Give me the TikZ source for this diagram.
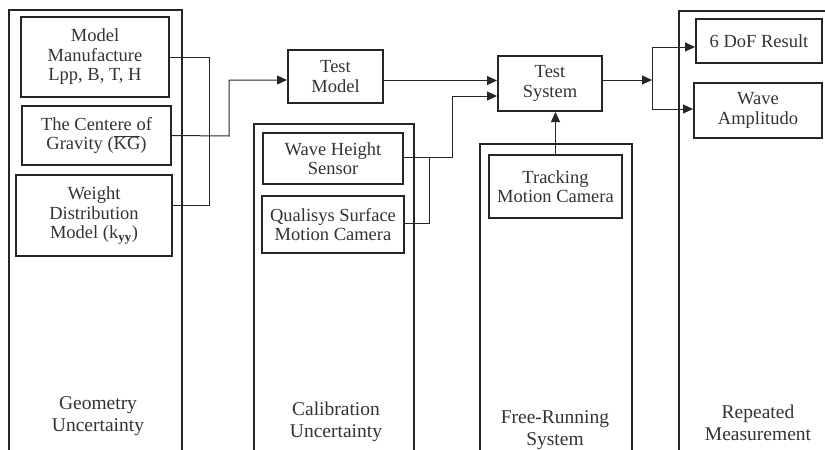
\documentclass[tikz,border=0pt]{standalone}
\usepackage{fontspec}
\setmainfont{Liberation Serif}
\usetikzlibrary{arrows.meta}
\definecolor{lineGray}{HTML}{262626}
\definecolor{textGray}{HTML}{333333}

\begin{document}
\begin{tikzpicture}[x=1pt,y=-1pt,
  outerBox/.style={draw=lineGray,line width=2pt,inner sep=0pt},
  innerBox/.style={draw=lineGray,line width=2pt,inner sep=0pt,align=center,text=textGray,
    font=\fontsize{18.5}{19.5}\selectfont},
  capText/.style={align=center,text=textGray,font=\fontsize{19.5}{22}\selectfont},
  link/.style={draw=lineGray,line width=1pt},
  arr/.style={link,-{Triangle[length=10pt,width=9pt]}}]
  \useasboundingbox (0,0) rectangle (825,450);
  \clip (0,0) rectangle (825,450);
  % outer columns
  \node[outerBox,minimum width=173,minimum height=450] (geo) at (95.5,235) {};
  \node[outerBox,minimum width=160,minimum height=336] (cal) at (334,292) {};
  \node[outerBox,minimum width=152,minimum height=316] (free) at (556,302) {};
  \node[outerBox,minimum width=221,minimum height=449] (rep) at (789.5,235.5) {};
  % column captions
  \node[capText] (geoText) at (98,416) {Geometry\\Uncertainty};
  \node[capText] (calText) at (336,422) {Calibration\\Uncertainty};
  \node[capText] (freeText) at (555,430) {Free-Running\\System};
  \node[capText] (repText) at (758,423) {Repeated\\Measurement};
  % inner boxes
  \node[innerBox,minimum width=148,minimum height=80] (mfg) at (95,57) {Model\\Manufacture\\Lpp, B, T, H};
  \node[innerBox,minimum width=149,minimum height=59] (cog) at (96.5,135.5) {The Centere of\\Gravity ($\overline{\hbox{KG}}$)};
  \node[innerBox,minimum width=156,minimum height=81] (wdist) at (94,215.5) {Weight\\Distribution\\Model (k\textsubscript{\textbf{yy}})};
  \node[innerBox,minimum width=95,minimum height=53] (tmod) at (335.5,76.5) {Test\\Model};
  \node[innerBox,minimum width=104,minimum height=55] (tsys) at (550,83.5) {Test\\System};
  \node[innerBox,minimum width=140,minimum height=51] (whs) at (333,158.5) {Wave Height\\Sensor};
  \node[innerBox,minimum width=142,minimum height=57] (qsc) at (333,224.5) {Qualisys Surface\\Motion Camera};
  \node[innerBox,minimum width=133,minimum height=63] (tmc) at (555.5,186.5) {Tracking\\Motion Camera};
  \node[innerBox,minimum width=126,minimum height=44] (dof) at (759,41) {6 DoF Result};
  \node[innerBox,minimum width=128,minimum height=55] (amp) at (758,110.5) {Wave\\Amplitudo};
  % junction points
  \coordinate (geoJoin) at (209,57);
  \coordinate (cogJoin) at (229,136);
  \coordinate (calJoin) at (452,157);
  \coordinate (qscJoin) at (429,223);
  \coordinate (outJoin) at (652,80);
  % connectors
  \draw[link] (mfg.east) -- (geoJoin) |- ([yshift=10.5pt]wdist.east);
  \draw[arr] (cog.east) -- (cogJoin) |- ([yshift=-3.5pt]tmod.west);
  \draw[arr] ([yshift=-4pt]tmod.east) -- ([yshift=-4pt]tmod.east -| tsys.west);
  \draw[arr] ([yshift=1.5pt]whs.east) -- (calJoin) |- ([yshift=-12.5pt]tsys.west);
  \draw[link] ([yshift=1.5pt]qsc.east) -- (qscJoin) -- (qscJoin |- calJoin);
  \draw[arr] (tmc.north) -- (tmc.north |- tsys.south);
  \draw[arr] ([yshift=3.5pt]tsys.east) -- (outJoin);
  \draw[link] (outJoin |- 0,47) -- (outJoin |- 0,109);
  \draw[arr] (outJoin |- 0,47) -- ([yshift=-6pt]dof.west);
  \draw[arr] (outJoin |- 0,109) -- (outJoin |- 0,109 -| amp.west);
\end{tikzpicture}
\end{document}
